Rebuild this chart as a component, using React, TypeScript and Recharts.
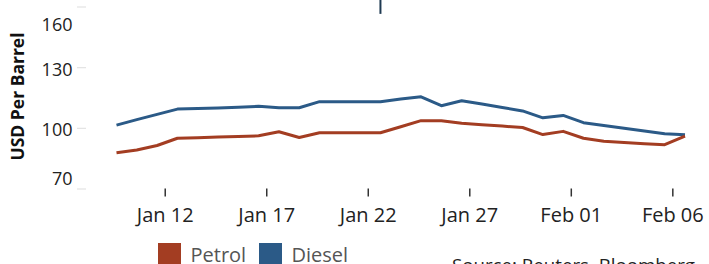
import { Legend, Line, LineChart, ReferenceLine, XAxis, YAxis } from 'recharts';

// Daily closes, Jan 09 - Feb 06
const dates = [
  '2022-01-09', '2022-01-10', '2022-01-11', '2022-01-12', '2022-01-13', '2022-01-14',
  '2022-01-15', '2022-01-16', '2022-01-17', '2022-01-18', '2022-01-19', '2022-01-20',
  '2022-01-21', '2022-01-22', '2022-01-23', '2022-01-24', '2022-01-25', '2022-01-26',
  '2022-01-27', '2022-01-28', '2022-01-29', '2022-01-30', '2022-01-31', '2022-02-01',
  '2022-02-02', '2022-02-03', '2022-02-04', '2022-02-05', '2022-02-06',
];
const petrol = [
  87.9, 89.3, 91.5, 95.1, 95.4, 95.7, 96.0, 96.3, 98.3, 95.5, 97.8, 97.8, 97.8, 97.8,
  100.8, 103.8, 103.8, 102.5, 101.8, 101.1, 100.4, 96.9, 98.5, 95.1, 93.6, 93.0, 92.4,
  91.9, 96.2,
];
const diesel = [
  101.6, 104.3, 106.9, 109.5, 109.8, 110.0, 110.4, 110.9, 110.2, 110.2, 113.2, 113.2,
  113.2, 113.2, 114.5, 115.6, 111.2, 113.6, 112.0, 110.3, 108.6, 105.2, 106.4, 102.8,
  101.4, 100.0, 98.7, 97.3, 96.8,
];
const tickDates = ['2022-01-12', '2022-01-17', '2022-01-22', '2022-01-27', '2022-02-01', '2022-02-06'];
const tickLabels = ['Jan 12', 'Jan 17', 'Jan 22', 'Jan 27', 'Feb 01', 'Feb 06'];
const yTicks = [70, 100, 130, 160];

const PETROL = '#a33d22';
const DIESEL = '#2b5a87';
const FONT = '"Open Sans", sans-serif';

// closes are stamped mid-afternoon, so points sit a little before the midnight ticks
const toTime = (d: string, time = '00:00') => Date.parse(`${d}T${time}:00Z`);

const data = dates.map((d, i) => ({ t: toTime(d, '14:24'), petrol: petrol[i], diesel: diesel[i] }));
const tickTimes = tickDates.map(d => toTime(d));

function XTick({ x, y, payload }: any) {
  const label = tickLabels[tickTimes.indexOf(payload.value)];
  return (
    <g>
      <line x1={x} x2={x} y1={y - 0.5} y2={y + 7.5} stroke="#333" strokeWidth={1.5} />
      <text x={x} y={y + 32.7} textAnchor="middle" fill="#222" fontSize={20} fontFamily={FONT}>
        {label}
      </text>
    </g>
  );
}

function YTick({ x, y, payload }: any) {
  // labels are kept inside the plot band, like the original
  const cy = Math.min(Math.max(y + 1.5, 24.5), 178.3);
  return (
    <g>
      <line x1={x} x2={x + 9} y1={y} y2={y} stroke="#e3e3e3" strokeWidth={1.2} />
      <text x={x - 4.5} y={cy + 6.4} textAnchor="end" fill="#222" fontSize={18} fontFamily={FONT}>
        {payload.value}
      </text>
    </g>
  );
}

function AxisTitle() {
  return (
    <text
      x={23.5}
      y={96.5}
      transform="rotate(-90 23.5 96.5)"
      textAnchor="middle"
      fill="#111"
      fontSize={17.5}
      fontWeight={700}
      fontFamily={FONT}
    >
      USD Per Barrel
    </text>
  );
}

function LegendBox() {
  const items = [
    { name: 'Petrol', color: PETROL },
    { name: 'Diesel', color: DIESEL },
  ];
  return (
    <div style={{ display: 'flex', fontFamily: FONT }}>
      {items.map(it => (
        <div key={it.name} style={{ display: 'flex', width: 101 }}>
          <div style={{ width: 23, height: 23, marginTop: 2, marginRight: 9.5, background: it.color }} />
          <span style={{ fontSize: 20, lineHeight: '27px', color: '#555' }}>{it.name}</span>
        </div>
      ))}
    </div>
  );
}

export default function App() {
  return (
    <div style={{ position: 'absolute', left: 0, top: 0, width: 709, height: 264, overflow: 'hidden', background: '#fff' }}>
      <LineChart width={709} height={264} data={data} margin={{ top: 7, right: 9, bottom: 30, left: 0 }}>
        <XAxis
          type="number"
          dataKey="t"
          scale="time"
          domain={['dataMin', 'dataMax']}
          ticks={tickTimes}
          interval={0}
          tick={<XTick />}
          tickSize={0}
          tickMargin={0}
          axisLine={false}
          tickLine={false}
          height={45}
          padding={{ left: 39.5, right: 15 }}
        />
        <YAxis
          type="number"
          domain={[70, 160]}
          ticks={yTicks}
          interval={0}
          tick={<YTick />}
          tickSize={0}
          tickMargin={0}
          axisLine={false}
          tickLine={false}
          width={77}
          label={{ content: () => <AxisTitle /> }}
        />
        <ReferenceLine
          segment={[{ x: data[13].t, y: 156.6 }, { x: data[13].t, y: 165 }]}
          stroke="#1f3a52"
          strokeWidth={2}
          ifOverflow="visible"
        />
        <Line
          type="linear"
          dataKey="diesel"
          stroke={DIESEL}
          strokeWidth={3}
          strokeLinejoin="round"
          dot={false}
          activeDot={false}
          isAnimationActive={false}
        />
        <Line
          type="linear"
          dataKey="petrol"
          stroke={PETROL}
          strokeWidth={3}
          strokeLinejoin="round"
          dot={false}
          activeDot={false}
          isAnimationActive={false}
        />
        <Legend
          layout="horizontal"
          verticalAlign="middle"
          align="center"
          wrapperStyle={{ left: 158, top: 241, width: 240, height: 27 }}
          content={() => <LegendBox />}
        />
      </LineChart>
      <div
        style={{
          position: 'absolute',
          left: 452,
          top: 251.5,
          fontFamily: FONT,
          fontSize: 18.7,
          color: '#222',
          whiteSpace: 'nowrap',
        }}
      >
        Source: Reuters, Bloomberg
      </div>
    </div>
  );
}
